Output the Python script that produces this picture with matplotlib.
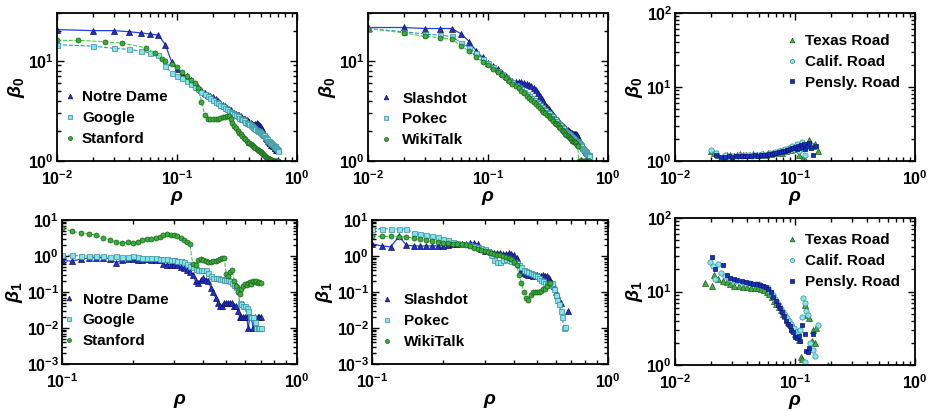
import numpy as np
import matplotlib
matplotlib.use("Agg")
import matplotlib.pyplot as plt
from matplotlib.ticker import LogLocator, NullFormatter

plt.rcParams['font.family'] = ['Liberation Sans', 'DejaVu Sans']
plt.rcParams['font.weight'] = 'bold'
plt.rcParams['mathtext.fontset'] = 'custom'
plt.rcParams['mathtext.rm'] = 'Liberation Sans:bold'
plt.rcParams['mathtext.it'] = 'Liberation Sans:italic:bold'
plt.rcParams['mathtext.bf'] = 'Liberation Sans:bold'

# ---------------- data ----------------
# rho thresholds (top row, web / social graphs)
rho_top = [0.01, 0.02, 0.03, 0.04, 0.05, 0.06, 0.07, 0.08, 0.09, 0.10,
           0.11, 0.12, 0.13, 0.14, 0.15, 0.16, 0.17, 0.18, 0.19, 0.20,
           0.21, 0.22, 0.23, 0.24, 0.25, 0.26, 0.27, 0.28, 0.29, 0.30,
           0.31, 0.32, 0.33, 0.34, 0.35, 0.36, 0.37, 0.38, 0.39, 0.40,
           0.41, 0.42, 0.43, 0.44, 0.45, 0.46, 0.47, 0.48, 0.49, 0.50,
           0.51, 0.52, 0.53, 0.54, 0.55, 0.56, 0.57, 0.58, 0.59, 0.60,
           0.61, 0.62, 0.63, 0.64, 0.65, 0.66, 0.67, 0.68, 0.69, 0.70]

b0_notredame = [20.5, 20, 20, 19.5, 19, 18.5, 18, 14.5, 9.8, 8.2,
                7.6, 7.0, 6.4, 5.9, 5.5, 5.1, 4.8, 4.6, 4.5, 4.4,
                4.2, 4.0, 3.8, 3.6, 3.5, 3.4, 3.3, 3.2, 3.1, 3.0,
                2.95, 2.9, 2.85, 2.8, 2.7, 2.65, 2.6, 2.55, 2.5, 2.45,
                2.4, 2.35, 2.3, 2.3, 2.35, 2.4, 2.35, 2.3, 2.25, 2.2,
                2.1, 2.0, 1.9, 1.8, 1.7, 1.65, 1.6, 1.55, 1.5, 1.5,
                1.45, 1.45, 1.4, 1.4, 1.35, 1.35, 1.3, 1.3, 1.3, 1.3]
b0_google = [14.5, 14, 13.3, 13, 12.5, 12, 11.5, 8.8, 7.6, 7.0,
             6.7, 6.3, 5.9, 5.5, 5.2, 4.9, 4.7, 4.5, 4.3, 4.05,
             3.9, 3.75, 3.6, 3.5, 3.4, 3.3, 3.15, 3.1, 3.0, 2.95,
             2.85, 2.8, 2.7, 2.65, 2.6, 2.55, 2.45, 2.42, 2.38, 2.33,
             2.28, 2.23, 2.2, 2.15, 2.1, 2.05, 2.0, 1.97, 1.93, 1.9,
             1.86, 1.83, 1.8, 1.75, 1.7, 1.65, 1.6, 1.57, 1.55, 1.52,
             1.5, 1.47, 1.45, 1.42, 1.4, 1.37, 1.35, 1.32, 1.3, 1.27]
rho_stanford = [0.01, 0.015, 0.025, 0.035, 0.055, 0.065, 0.075, 0.08, 0.09, 0.10,
                0.11, 0.12, 0.13, 0.14, 0.15, 0.16, 0.17, 0.18, 0.19, 0.20,
                0.21, 0.22, 0.23, 0.24, 0.25, 0.26, 0.27, 0.28, 0.29, 0.30,
                0.31, 0.32, 0.33, 0.34, 0.35, 0.36, 0.37, 0.38, 0.39, 0.40,
                0.41, 0.42, 0.43, 0.44, 0.45, 0.46, 0.47, 0.48, 0.49, 0.50,
                0.51, 0.52, 0.53, 0.54, 0.55, 0.56, 0.57, 0.58, 0.59, 0.60,
                0.61, 0.62, 0.63, 0.64, 0.65, 0.66, 0.67, 0.68, 0.69, 0.70]
b0_stanford = [16.0, 16.0, 15.5, 15.0, 13.5, 12.0, 10.5, 10.0, 9.2, 8.6,
               7.8, 7.0, 6.5, 6.0, 5.3, 3.9, 2.9, 2.65, 2.6, 2.6,
               2.62, 2.65, 2.7, 2.72, 2.75, 2.8, 2.8, 2.6, 2.4, 2.25,
               2.15, 2.0, 1.92, 1.85, 1.78, 1.7, 1.65, 1.58, 1.52, 1.5,
               1.47, 1.44, 1.4, 1.38, 1.36, 1.33, 1.3, 1.27, 1.25, 1.22,
               1.2, 1.18, 1.15, 1.12, 1.1, 1.08, 1.06, 1.05, 1.04, 1.03,
               1.02, 1.02, 1.01, 1.0, 1.0, 1.0, 1.0, 1.0, 1.0, 1.0]

b0_slashdot = [21.5, 21.5, 21, 21, 21, 18.5, 15.5, 12.5, 10.8, 9.6,
               8.8, 8.2, 7.6, 7.1, 6.6, 6.3, 6.2, 6.2, 6.1, 6.0,
               5.9, 5.8, 5.6, 5.4, 5.1, 4.8, 4.5, 4.2, 4.0, 3.6,
               3.45, 3.3, 3.15, 3.0, 2.85, 2.75, 2.65, 2.55, 2.45, 2.35,
               2.3, 2.25, 2.2, 2.15, 2.1, 2.05, 2.0, 1.95, 1.92, 1.9,
               1.88, 1.87, 1.86, 1.85, 1.83, 1.75, 1.62, 1.55, 1.5, 1.46,
               1.42, 1.38, 1.34, 1.3, 1.26, 1.23, 1.2, 1.18, 1.16, 1.14]
b0_pokec = [21, 19.5, 18.5, 18, 17.5, 15, 13.5, 12, 10.5, 9.5,
            8.6, 8.0, 7.4, 6.9, 6.5, 6.1, 5.8, 5.5, 5.2, 4.9,
            4.7, 4.5, 4.3, 4.1, 3.9, 3.75, 3.6, 3.45, 3.3, 3.2,
            3.1, 3.0, 2.9, 2.8, 2.7, 2.6, 2.5, 2.42, 2.35, 2.28,
            2.2, 2.13, 2.06, 2.0, 1.95, 1.9, 1.85, 1.8, 1.76, 1.72,
            1.68, 1.65, 1.62, 1.6, 1.58, 1.56, 1.52, 1.48, 1.44, 1.4,
            1.36, 1.32, 1.28, 1.25, 1.22, 1.2, 1.18, 1.16, 1.14, 1.12]
b0_wikitalk = [21, 19, 17.5, 17, 16.5, 14, 12.5, 10.8, 9.8, 9.0,
               8.3, 7.7, 7.2, 6.7, 6.3, 5.9, 5.6, 5.3, 5.0, 4.75,
               4.5, 4.3, 4.1, 3.9, 3.7, 3.55, 3.4, 3.25, 3.1, 3.0,
               2.9, 2.8, 2.7, 2.6, 2.5, 2.42, 2.35, 2.28, 2.2, 2.13,
               2.06, 2.0, 1.94, 1.88, 1.82, 1.77, 1.72, 1.68, 1.64, 1.6,
               1.57, 1.55, 1.53, 1.5, 1.45, 1.4, 1.0, 1.0, 1.0, 1.0,
               1.0, 1.0, 1.0, 1.0, 1.0, 1.0, 1.0, 1.0, 1.0, 1.0]

# road networks, beta_0
rho_texas0 = [0.020, 0.021, 0.023, 0.025, 0.027, 0.029, 0.031, 0.033, 0.035, 0.037,
              0.039, 0.042, 0.045, 0.048, 0.051, 0.054, 0.057, 0.060, 0.063, 0.066,
              0.069, 0.072, 0.075, 0.078, 0.081, 0.084, 0.087, 0.090, 0.093, 0.096,
              0.099, 0.102, 0.105, 0.108, 0.111, 0.114, 0.117, 0.120, 0.125, 0.130,
              0.140, 0.146, 0.155]
b0_texas = [1.35, 1.3, 1.2, 1.15, 1.2, 1.22, 1.18, 1.2, 1.25, 1.2,
            1.22, 1.2, 1.25, 1.22, 1.2, 1.25, 1.22, 1.28, 1.25, 1.3,
            1.28, 1.32, 1.35, 1.3, 1.4, 1.35, 1.45, 1.5, 1.4, 1.55,
            1.5, 1.65, 1.45, 1.2, 1.5, 1.75, 1.1, 1.02, 1.7, 1.9,
            1.6, 1.7, 1.35]
rho_calif0 = [0.020, 0.022, 0.024, 0.026, 0.028, 0.030, 0.032, 0.034, 0.036, 0.038,
              0.041, 0.044, 0.047, 0.050, 0.053, 0.056, 0.059, 0.062, 0.065, 0.068,
              0.071, 0.074, 0.077, 0.080, 0.083, 0.086, 0.089, 0.092, 0.095, 0.098,
              0.101, 0.104, 0.107, 0.110, 0.114, 0.118, 0.122, 0.126, 0.132]
b0_calif = [1.4, 1.28, 1.05, 1.2, 1.15, 1.18, 1.1, 1.2, 1.17, 1.22,
            1.2, 1.18, 1.22, 1.2, 1.24, 1.22, 1.26, 1.3, 1.27, 1.32,
            1.3, 1.36, 1.33, 1.4, 1.45, 1.38, 1.5, 1.42, 1.6, 1.45,
            1.55, 1.7, 1.35, 1.6, 1.8, 1.5, 1.2, 1.6, 1.55]
rho_pensly0 = [0.022, 0.024, 0.026, 0.028, 0.030, 0.032, 0.034, 0.036, 0.038, 0.040,
               0.043, 0.046, 0.049, 0.052, 0.055, 0.058, 0.061, 0.064, 0.067, 0.070,
               0.073, 0.076, 0.079, 0.082, 0.085, 0.088, 0.091, 0.094, 0.097, 0.100,
               0.103, 0.106, 0.109, 0.112, 0.115, 0.118, 0.121, 0.125, 0.130, 0.136,
               0.142, 0.150]
b0_pensly = [1.2, 1.15, 1.13, 1.16, 1.15, 1.17, 1.16, 1.18, 1.17, 1.18,
             1.17, 1.19, 1.18, 1.2, 1.21, 1.22, 1.24, 1.26, 1.28, 1.3,
             1.32, 1.34, 1.36, 1.38, 1.4, 1.42, 1.45, 1.48, 1.5, 1.55,
             1.45, 1.6, 1.5, 1.65, 1.55, 1.7, 1.45, 1.6, 1.75, 1.5,
             1.2, 1.6]

# beta_1, web / social graphs
rho_bot = [0.10, 0.11, 0.12, 0.13, 0.14, 0.15, 0.16, 0.17, 0.18, 0.19,
           0.20, 0.21, 0.22, 0.23, 0.24, 0.25, 0.26, 0.27, 0.28, 0.29,
           0.30, 0.31, 0.32, 0.33, 0.34, 0.35, 0.36, 0.37, 0.38, 0.39,
           0.40, 0.41, 0.42, 0.43, 0.44, 0.45, 0.46, 0.47, 0.48, 0.49,
           0.50, 0.51, 0.52, 0.53, 0.54, 0.55, 0.56, 0.57, 0.58, 0.59,
           0.60, 0.61, 0.62, 0.63, 0.64, 0.65, 0.66, 0.67, 0.68, 0.69,
           0.70]
b1_notredame = [0.75, 0.72, 0.82, 0.88, 0.9, 0.9, 0.85, 0.65, 0.78, 0.8,
                0.8, 0.78, 0.75, 0.8, 0.78, 0.75, 0.78, 0.6, 0.58, 0.58,
                0.58, 0.58, 0.5, 0.45, 0.4, 0.35, 0.3, 0.2, 0.18, 0.22,
                0.25, 0.22, 0.2, 0.13, 0.1, 0.07, 0.05, 0.04, 0.04, 0.05,
                0.05, 0.05, 0.05, 0.05, 0.04, 0.04, 0.03, 0.02, 0.02, 0.02,
                0.02, 0.02, 0.01, 0.02, 0.02, 0.01, 0.02, 0.01, 0.02, 0.02,
                0.02]
b1_google = [1.05, 1.05, 1.0, 1.0, 1.0, 1.0, 0.95, 1.0, 0.95, 0.95,
             1.0, 0.95, 0.9, 0.9, 0.88, 0.86, 0.85, 0.82, 0.8, 0.78,
             0.76, 0.74, 0.72, 0.7, 0.6, 0.52, 0.48, 0.44, 0.42, 0.42,
             0.42, 0.4, 0.33, 0.27, 0.25, 0.24, 0.24, 0.23, 0.23, 0.22,
             0.22, 0.21, 0.2, 0.18, 0.16, 0.14, 0.12, 0.05, 0.045, 0.04,
             0.04, 0.035, 0.03, 0.02, 0.02, 0.02, 0.015, 0.01, 0.01, 0.01,
             0.01]
b1_stanford = [6.0, 4.8, 4.4, 4.1, 3.8, 3.2, 2.8, 2.4, 2.3, 2.4,
               2.3, 2.5, 2.8, 2.9, 3.0, 3.1, 3.4, 3.8, 4.0, 3.9,
               3.8, 3.6, 3.2, 2.8, 2.5, 2.2, 0.6, 0.58, 0.75, 0.8,
               0.75, 0.72, 0.7, 0.7, 0.72, 0.72, 0.75, 0.8, 0.9, 0.88,
               0.32, 0.28, 0.35, 0.42, 0.2, 0.15, 0.1, 0.09, 0.12, 0.15,
               0.17, 0.16, 0.18, 0.19, 0.17, 0.2, 0.19, 0.2, 0.18, 0.19,
               0.18]

rho_slashdot1 = [0.10, 0.11, 0.12, 0.13, 0.14, 0.15, 0.16, 0.17, 0.18, 0.19,
                 0.20, 0.21, 0.22, 0.23, 0.24, 0.25, 0.26, 0.27, 0.28, 0.29,
                 0.30, 0.31, 0.32, 0.33, 0.34, 0.35, 0.36, 0.37, 0.38, 0.39,
                 0.40, 0.41, 0.42, 0.43, 0.44, 0.45, 0.46, 0.47, 0.48, 0.49,
                 0.50, 0.51, 0.52, 0.53, 0.54, 0.55, 0.56, 0.57, 0.58, 0.59,
                 0.60, 0.61, 0.62, 0.63, 0.65, 0.68]
b1_slashdot = [2.2, 1.9, 1.8, 3.5, 2.0, 1.9, 1.9, 1.9, 1.9, 1.9,
               1.95, 2.0, 2.1, 2.1, 2.2, 2.2, 2.25, 2.3, 2.1, 1.6,
               1.4, 1.35, 1.3, 1.25, 1.2, 1.2, 1.15, 1.15, 1.2, 1.15,
               1.1, 0.9, 0.6, 0.4, 0.34, 0.32, 0.3, 0.3, 0.28, 0.29,
               0.3, 0.28, 0.27, 0.3, 0.28, 0.27, 0.25, 0.2, 0.18, 0.15,
               0.1, 0.08, 0.06, 0.05, np.nan, 0.03]
rho_pokec1 = rho_bot[:57]
b1_pokec = [5.5, 5.7, 5.7, 5.6, 5.6, 4.4, 4.0, 3.8, 3.6, 3.3,
            3.0, 2.7, 2.5, 2.35, 2.2, 2.1, 2.0, 1.9, 1.8, 1.7,
            1.55, 1.4, 1.1, 0.75, 0.68, 0.68, 0.75, 0.8, 0.78, 0.72,
            0.68, 0.65, 0.55, 0.48, 0.42, 0.38, 0.35, 0.33, 0.31, 0.3,
            0.28, 0.25, 0.22, 0.2, 0.18, 0.17, 0.16, 0.17, 0.18, 0.12,
            0.08, 0.06, 0.045, 0.03, 0.02, 0.01, 0.011]
rho_wikitalk1 = rho_bot[:48]
b1_wikitalk = [3.6, 3.5, 3.5, 3.4, 3.4, 3.2, 3.0, 2.8, 2.6, 2.5,
               2.35, 2.25, 2.2, 2.15, 2.1, 2.0, 1.85, 1.7, 1.6, 1.5,
               1.4, 1.3, 1.2, 1.15, 1.1, 1.05, 1.0, 0.95, 0.9, 0.85,
               0.7, 0.55, 0.3, 0.18, 0.1, 0.07, 0.06, 0.08, 0.1, 0.1,
               0.1, 0.1, 0.11, 0.12, 0.12, 0.15, 0.18, 0.18]

# road networks, beta_1
rho_texas1 = [0.0178, 0.0202, 0.021, 0.023, 0.025, 0.027, 0.029, 0.031, 0.034, 0.037,
              0.040, 0.043, 0.046, 0.049, 0.052, 0.055, 0.058, 0.061, 0.064, 0.067,
              0.070, 0.073, 0.076, 0.079, 0.082, 0.085, 0.088, 0.091, 0.094, 0.097,
              0.100, 0.104, 0.108, 0.112, 0.114, 0.120, 0.125, 0.130, 0.138, 0.142,
              0.146, 0.150, 0.190]
b1_texas = [13, 11.7, 17, 15, 14, 13.5, 12.5, 12, 12, 11.5,
            11.5, 11, 11, 11.2, 10.8, 10.5, 10, 9.2, 8.3, 7.5,
            6.8, 6.2, 5.6, 5.0, 4.6, 4.2, 3.8, 3.6, 3.2, 3.0,
            2.6, 2.8, 2.2, 1.3, 1.2, 6.6, 4.8, 4.3, 2.1, 3.0,
            2.0, 3.2, 1.0]
rho_calif1 = [0.0196, 0.0207, 0.0215, 0.0228, 0.024, 0.026, 0.028, 0.030, 0.032, 0.035,
              0.038, 0.041, 0.044, 0.047, 0.050, 0.053, 0.056, 0.059, 0.062, 0.065,
              0.068, 0.071, 0.074, 0.077, 0.080, 0.083, 0.086, 0.089, 0.092, 0.095,
              0.098, 0.102, 0.106, 0.110, 0.114, 0.117, 0.120, 0.123, 0.128, 0.133,
              0.140, 0.146, 0.156, 0.121]
b1_calif = [25, 22, 15, 24, 18, 16, 15, 14.5, 14, 13.5,
            13, 13, 12.5, 12.5, 12.5, 12, 11.5, 11, 10, 9,
            8, 7.2, 6.5, 5.8, 5.2, 4.8, 4.4, 4, 3.6, 3.3,
            3.2, 2.8, 2.6, 3.0, 4.5, 8.1, 7.0, 5.5, 4.8, 2.0,
            1.6, 1.32, 3.5, 1.1]
rho_pensly1 = [0.0202, 0.0215, 0.0253, 0.027, 0.029, 0.031, 0.033, 0.036, 0.039, 0.042,
               0.045, 0.048, 0.051, 0.054, 0.057, 0.060, 0.063, 0.066, 0.069, 0.072,
               0.075, 0.078, 0.081, 0.084, 0.087, 0.090, 0.093, 0.096, 0.100, 0.104,
               0.108, 0.110, 0.115, 0.120, 0.124, 0.128, 0.132, 0.140]
b1_pensly = [29.7, 20, 23, 17, 15.5, 15, 14.5, 14, 13.5, 13,
             12.8, 12.5, 12.2, 12, 11.5, 10.8, 9.8, 8.5, 7.5, 6.6,
             6.0, 5.2, 4.6, 4.0, 3.6, 3.4, 3.0, 2.8, 2.4, 2.3,
             2.5, 2.1, 3.5, 2.6, 1.55, 1.5, 1.7, 2.6]

# ---------------- styles ----------------
tri = dict(marker='^', ms=4.2, mfc='#2030c8', mec='#101060', mew=0.5)
sq = dict(marker='s', ms=3.6, mfc='#80e4e8', mec='#3a8a98', mew=0.5)
circ = dict(marker='o', ms=3.6, mfc='#38b038', mec='#1d5a1d', mew=0.5)
road_tri = dict(marker='^', ms=4.2, mfc='#40b040', mec='#1d5a1d', mew=0.5, ls='none')
road_circ = dict(marker='o', ms=3.8, mfc='#80eaea', mec='#3a8a98', mew=0.5, ls='none')
road_sq = dict(marker='s', ms=3.4, mfc='#1030c8', mec='#101060', mew=0.5, ls='none')


def px_axes(fig, left, right, top, bottom):
    W, H = 933.0, 411.0
    return fig.add_axes([left / W, (H - bottom) / H, (right - left) / W, (bottom - top) / H])


def style(ax, xlim, ylim, ylabel):
    ax.set_xscale('log')
    ax.set_yscale('log')
    ax.set_xlim(*xlim)
    ax.set_ylim(*ylim)
    ax.xaxis.set_major_locator(LogLocator(base=10, numticks=10))
    ax.yaxis.set_major_locator(LogLocator(base=10, numticks=10))
    ax.xaxis.set_minor_locator(LogLocator(base=10, subs=np.arange(2, 10), numticks=20))
    ax.yaxis.set_minor_locator(LogLocator(base=10, subs=np.arange(2, 10), numticks=20))
    ax.xaxis.set_minor_formatter(NullFormatter())
    ax.yaxis.set_minor_formatter(NullFormatter())
    ax.tick_params(which='both', direction='in', top=True, right=True, labelsize=11.5, width=1.0)
    ax.tick_params(which='major', length=5)
    ax.tick_params(which='minor', length=3)
    ax.tick_params(axis='x', which='major', pad=6)
    ax.tick_params(axis='y', which='major', pad=2)
    for s in ax.spines.values():
        s.set_linewidth(1.3)
    ax.set_xlabel(r'$\rho$', fontsize=14, labelpad=1)
    ax.set_ylabel(ylabel, fontsize=14, labelpad=1)


def legend(ax, textpad=0.35, **kw):
    leg = ax.legend(frameon=False, fontsize=11, handlelength=0.6, handletextpad=textpad,
                    labelspacing=0.45, markerscale=0.8, borderaxespad=0.3, **kw)
    for ln in leg.get_lines():
        ln.set_linestyle('none')


fig = plt.figure(figsize=(9.33, 4.11), dpi=100)

# panel 1
ax = px_axes(fig, 57, 297, 13, 161)
ax.plot(rho_top, b0_notredame, ls='-', lw=0.9, color='#2040e0', label='Notre Dame', **tri)
ax.plot(rho_top, b0_google, ls='--', lw=0.8, color='#3090d0', label='Google', **sq)
ax.plot(rho_stanford, b0_stanford, ls='--', lw=0.8, color='#40d040', label='Stanford', **circ)
style(ax, (0.01, 1), (1, 30), r'$\beta_0$')
legend(ax, textpad=0.5, loc='lower left', bbox_to_anchor=(-0.01, 0.03))

# panel 2
ax = px_axes(fig, 368, 608, 13, 161)
ax.plot(rho_top, b0_slashdot, ls='-', lw=0.9, color='#2040e0', label='Slashdot', **tri)
ax.plot(rho_top, b0_pokec, ls='--', lw=0.8, color='#3090d0', label='Pokec', **sq)
ax.plot(rho_top, b0_wikitalk, ls='--', lw=0.8, color='#40d040', label='WikiTalk', **circ)
style(ax, (0.01, 1), (1, 30), r'$\beta_0$')
legend(ax, textpad=0.8, loc='lower left', bbox_to_anchor=(0.01, 0.02))

# panel 3
ax = px_axes(fig, 675, 915, 13, 161)
ax.plot(rho_texas0, b0_texas, label='Texas Road', **road_tri)
ax.plot(rho_calif0, b0_calif, label='Calif. Road', **road_circ)
ax.plot(rho_pensly0, b0_pensly, label='Pensly. Road', **road_sq)
style(ax, (0.01, 1), (1, 100), r'$\beta_0$')
legend(ax, textpad=0.5, loc='upper right', bbox_to_anchor=(0.98, 0.93))

# panel 4
ax = px_axes(fig, 62, 297, 220, 364)
ax.plot(rho_bot, b1_notredame, ls='-', lw=0.9, color='#2040e0', label='Notre Dame', **tri)
ax.plot(rho_bot, b1_google, ls='--', lw=0.8, color='#3090d0', label='Google', **sq)
ax.plot(rho_bot, b1_stanford, ls='--', lw=0.8, color='#40d040', label='Stanford', **circ)
style(ax, (0.1, 1), (0.001, 10), r'$\beta_1$')
legend(ax, textpad=0.6, loc='lower left', bbox_to_anchor=(-0.035, 0.035))

# panel 5
ax = px_axes(fig, 372, 608, 220, 364)
ax.plot(rho_slashdot1, b1_slashdot, ls='-', lw=0.9, color='#2040e0', label='Slashdot', **tri)
ax.plot(rho_pokec1, b1_pokec, ls='--', lw=0.8, color='#3090d0', label='Pokec', **sq)
ax.plot(rho_wikitalk1, b1_wikitalk, ls='--', lw=0.8, color='#40d040', label='WikiTalk', **circ)
style(ax, (0.1, 1), (0.001, 10), r'$\beta_1$')
legend(ax, textpad=0.8, loc='lower left', bbox_to_anchor=(0.0, 0.03))

# panel 6
ax = px_axes(fig, 675, 915, 218, 365)
ax.plot(rho_texas1, b1_texas, label='Texas Road', **road_tri)
ax.plot(rho_calif1, b1_calif, label='Calif. Road', **road_circ)
ax.plot(rho_pensly1, b1_pensly, label='Pensly. Road', **road_sq)
style(ax, (0.01, 1), (1, 100), r'$\beta_1$')
legend(ax, textpad=0.5, loc='upper right', bbox_to_anchor=(0.98, 0.97))

fig.savefig('out.png', dpi=100)
